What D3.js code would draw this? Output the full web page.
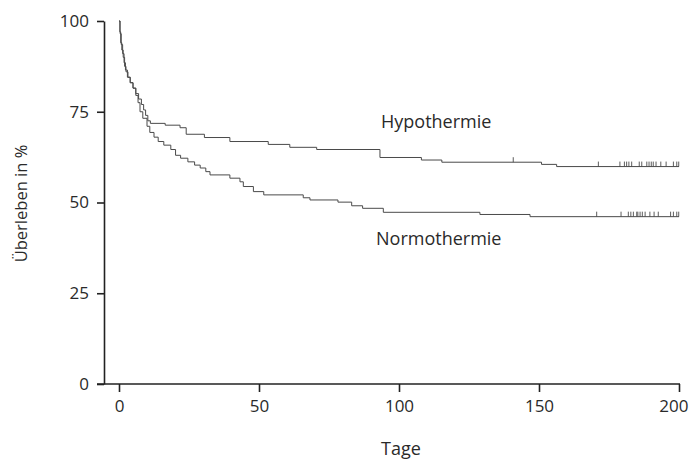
<!DOCTYPE html>
<html>
<head>
<meta charset="utf-8">
<script src="https://cdn.jsdelivr.net/npm/d3@7"></script>
<style>
  body { margin: 0; background: #fff; }
  text { font-family: "Open Sans", "Noto Sans", sans-serif; fill: #2a2a2a; }
</style>
</head>
<body>
<div id="chart"></div>
<script>
// Kaplan-Meier curves: [Tage, Überleben in %]
var hypoSteps = [
  [0, 100], [0.3, 97], [0.6, 94], [1.0, 92], [1.5, 90], [2.0, 87.5], [2.5, 86],
  [3.2, 84.5], [4.0, 83], [5.0, 81.5], [6.0, 80], [7.0, 78.5], [8.0, 77],
  [8.8, 75.5], [9.5, 74], [10.3, 72.5], [11.2, 71.8], [16.5, 71.3], [21.8, 70.6],
  [24.0, 68.8], [30.5, 67.9], [39.6, 66.8], [53.3, 66.0], [61.0, 65.2],
  [70.6, 64.6], [93.2, 62.4], [108, 61.7], [115.3, 61.1], [150.9, 60.5],
  [156.3, 59.9], [200, 59.9]
];
var normoSteps = [
  [0, 100], [0.4, 96.5], [0.8, 93.5], [1.3, 91], [1.8, 88.5], [2.3, 86.5],
  [3.0, 84.5], [4.0, 83], [5.0, 81.5], [6.0, 79.5], [6.8, 77.5], [7.5, 75],
  [8.5, 73.2], [10.0, 71], [11.0, 69.3], [12.5, 68], [14.0, 66.8], [16.0, 65.8],
  [18.5, 64.6], [20.2, 63], [22.0, 62.2], [24.6, 61.2], [27.0, 60.3], [29.0, 59.5],
  [31.0, 58.5], [32.5, 57.6], [39.6, 56.7], [43.2, 55.7], [44.4, 54.4], [48, 53],
  [51.7, 52.1], [65.8, 51.3], [68.2, 50.7], [78.2, 50.1], [83.1, 49.1], [87, 48.4],
  [94.4, 47.3], [128.9, 46.7], [146.8, 46.1], [200, 46.1]
];
// censored patients (small vertical ticks)
var hypoCensored = [140.8, 171.2, 178.9, 180.5, 181.3, 182.1, 183.1, 185.8, 186.7,
  188.5, 189.3, 190.1, 190.8, 191.8, 193.5, 195.4, 198, 199.2, 199.9];
var normoCensored = [170.6, 179.3, 181.9, 182.8, 183.7, 184.9, 185.3, 186.1, 186.9,
  187.9, 189.6, 191.1, 192.6, 197, 198, 199.2, 199.9];

var xTicks = [0, 50, 100, 150, 200];
var yTicks = [0, 25, 50, 75, 100];

var width = 689, height = 462;

var svg = d3.select("#chart")
  .append("svg")
  .attr("width", width)
  .attr("height", height);

var x = d3.scaleLinear().domain([0, 200]).range([119, 679]);
var y = d3.scaleLinear().domain([0, 100]).range([384, 21]);
var axisX = 104;   // y axis position
var tickLen = 7;

// y axis
var yAxis = svg.append("g")
  .attr("transform", "translate(" + axisX + ",0)")
  .call(d3.axisLeft(y).tickValues(yTicks).tickSize(tickLen).tickSizeOuter(0).tickPadding(8));
yAxis.select(".domain").attr("stroke", "#222").attr("stroke-width", 1.6);
yAxis.selectAll(".tick line").attr("stroke", "#222").attr("stroke-width", 1.6);
yAxis.selectAll(".tick text").style("font-size", "17px").attr("fill", "#2a2a2a");

// x axis
var xAxis = svg.append("g")
  .attr("transform", "translate(0," + y(0) + ")")
  .call(d3.axisBottom(x).tickValues(xTicks).tickSize(8).tickSizeOuter(0).tickPadding(8));
xAxis.select(".domain").remove();
xAxis.append("line")   // baseline runs left up to the 0 tick of the y axis
  .attr("x1", axisX - tickLen).attr("x2", x(200) + 1)
  .attr("stroke", "#222").attr("stroke-width", 1.6);
xAxis.selectAll(".tick line").attr("stroke", "#222").attr("stroke-width", 1.6);
xAxis.selectAll(".tick text").style("font-size", "17px").attr("fill", "#2a2a2a");
// last label sits against the right edge, as in the original page
xAxis.selectAll(".tick text")
  .filter(function (d) { return d === 200; })
  .attr("text-anchor", "end")
  .attr("x", 9);

// axis titles
svg.append("text")
  .attr("x", 401)
  .attr("y", 455)
  .attr("text-anchor", "middle")
  .style("font-size", "18px")
  .text("Tage");

svg.append("text")
  .attr("transform", "translate(27," + (y(50) + 1) + ") rotate(-90)")
  .attr("text-anchor", "middle")
  .style("font-size", "16.5px")
  .text("Überleben in %");

// survival curves
var line = d3.line()
  .x(function (d) { return x(d[0]); })
  .y(function (d) { return y(d[1]); })
  .curve(d3.curveStepAfter);

function survivalAt(steps, t) {
  var v = steps[0][1];
  steps.forEach(function (d) { if (d[0] <= t) v = d[1]; });
  return v;
}

[[hypoSteps, hypoCensored], [normoSteps, normoCensored]].forEach(function (s) {
  svg.append("path")
    .datum(s[0])
    .attr("fill", "none")
    .attr("stroke", "#4a4a4a")
    .attr("stroke-width", 1)
    .attr("d", line);

  svg.append("g")
    .selectAll("line")
    .data(s[1])
    .enter()
    .append("line")
    .attr("x1", function (d) { return x(d); })
    .attr("x2", function (d) { return x(d); })
    .attr("y1", function (d) { return y(survivalAt(s[0], d)) - 5; })
    .attr("y2", function (d) { return y(survivalAt(s[0], d)); })
    .attr("stroke", "#4a4a4a")
    .attr("stroke-width", 0.9);
});

// curve labels
svg.append("text")
  .attr("x", 381)
  .attr("y", 128)
  .style("font-size", "18px")
  .text("Hypothermie");

svg.append("text")
  .attr("x", 376)
  .attr("y", 245)
  .style("font-size", "18px")
  .text("Normothermie");
</script>
</body>
</html>
